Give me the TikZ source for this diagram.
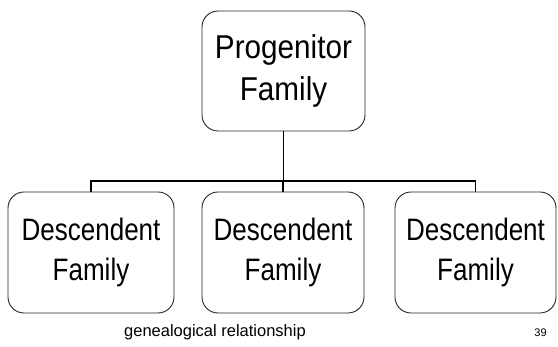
\documentclass[tikz,border=0pt]{standalone}
\usepackage{fontspec}
\setmainfont{Liberation Sans}
\newfontfamily\topfont[FakeStretch=0.9]{Liberation Sans}
\newfontfamily\boxfont[FakeStretch=0.84]{Liberation Sans}
\begin{document}
\begin{tikzpicture}[x=1pt,y=1pt,
  famitem/.style={draw=black!85, line width=0.9pt, rounded corners=16pt, align=center,
    inner sep=0pt, font=\boxfont\fontsize{31}{40}\selectfont},
  link/.style={draw=black, line width=1.6pt}]
\useasboundingbox (0,0) rectangle (558,-347);
\node[famitem, minimum width=163pt, minimum height=120pt, font=\topfont\fontsize{33}{42}\selectfont] (top) at (283.5,-71) {Progenitor\\Family};
\node[famitem, minimum width=166pt, minimum height=121pt] (d1) at (91,-252.5) {Descendent\\Family};
\node[famitem, minimum width=162pt, minimum height=121pt] (d2) at (283,-252.5) {Descendent\\Family};
\node[famitem, minimum width=161pt, minimum height=121pt] (d3) at (475.5,-252.5) {Descendent\\Family};
\coordinate (bus) at (283.5,-181);
\draw[link] (top.south) -- (bus);
\draw[link] (d1.north) -- (d1.north |- bus) -- (d3.north |- bus) -- (d3.north);
\draw[link] (d2.north) -- (d2.north |- bus);
\node[anchor=base, font=\fontsize{16.5}{20}\selectfont] (cap) at (215,-337) {genealogical relationship};
\node[anchor=base, font=\fontsize{11}{13}\selectfont] (num) at (540.5,-337) {39};
\end{tikzpicture}
\end{document}
